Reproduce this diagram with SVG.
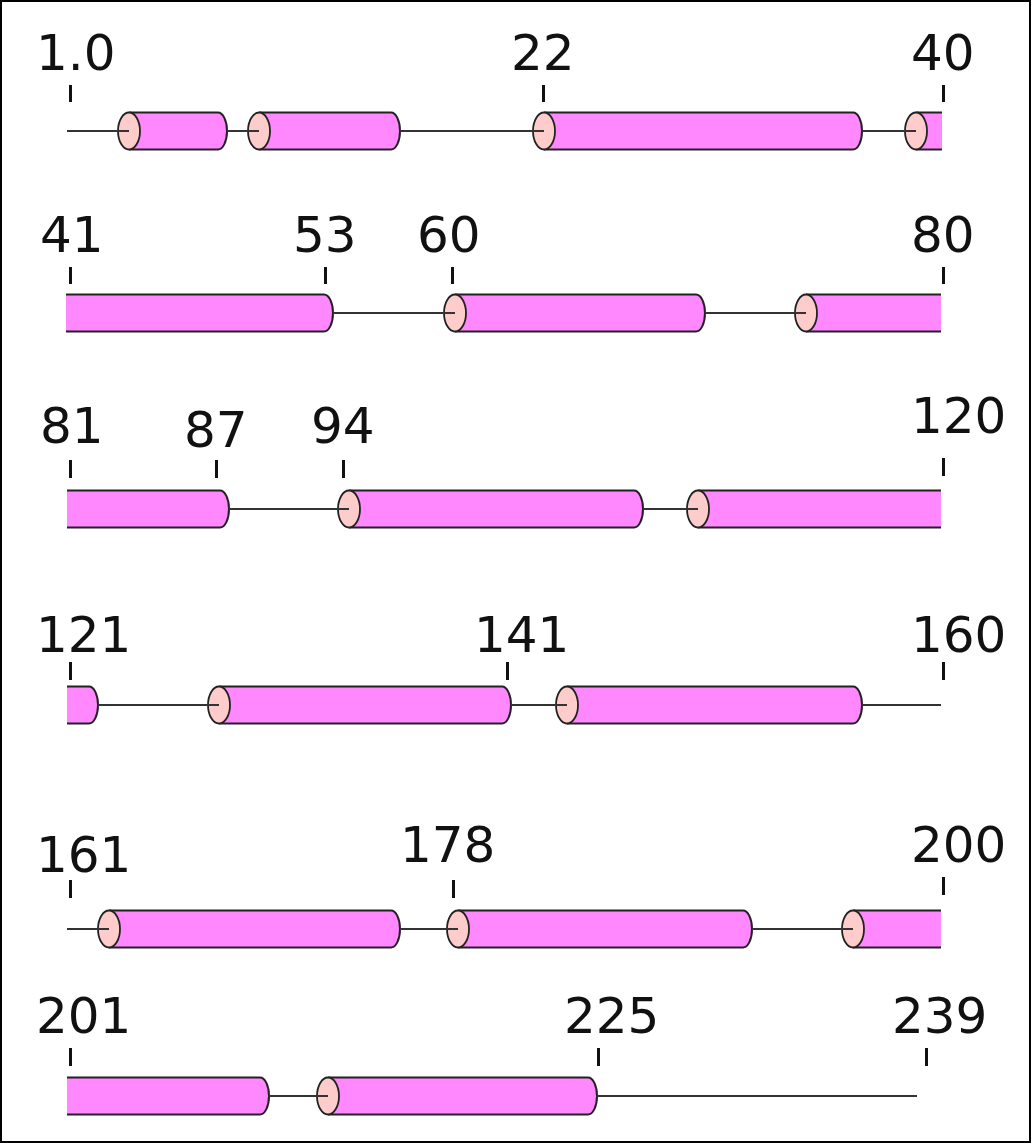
<svg xmlns="http://www.w3.org/2000/svg" width="1031" height="1143" viewBox="0 0 1031 1143">
  <style>
    .lbl { font-family: "DejaVu Sans", "Liberation Sans", sans-serif; font-size: 50px; fill: #111; }
    .tick { stroke: #111; stroke-width: 3; }
    .body { fill: #FF88FF; stroke: none; }
    .edge { fill: none; stroke: #222; stroke-width: 2; }
    .face { fill: #FFCCCC; stroke: #222; stroke-width: 1.8; }
    .coil { stroke: #333; stroke-width: 2; fill: none; }
  </style>

  <!-- frame -->
  <rect x="1" y="1" width="1029" height="1141" fill="#fff" stroke="#000" stroke-width="2"/>

  <!-- ===== Row 1 : residues 1-40 ===== -->
  <g id="row1-scale">
    <text class="lbl" x="36" y="70">1.0</text>
    <line class="tick" x1="70.5" y1="85" x2="70.5" y2="102"/>
    <text class="lbl" x="511" y="70">22</text>
    <line class="tick" x1="543.5" y1="85" x2="543.5" y2="102"/>
    <text class="lbl" x="911" y="70">40</text>
    <line class="tick" x1="943.5" y1="85" x2="943.5" y2="102"/>
  </g>
  <g id="helix-r1-a">
    <path class="body" d="M129,112.5 H218 A9,18.5 0 0 1 218,149.5 H129 Z"/>
    <path class="edge" d="M129,112.5 H218 A9,18.5 0 0 1 218,149.5 H129"/>
    <ellipse class="face" cx="129" cy="131" rx="11" ry="18.5"/>
  </g>
  <g id="helix-r1-b">
    <path class="body" d="M259,112.5 H391 A9,18.5 0 0 1 391,149.5 H259 Z"/>
    <path class="edge" d="M259,112.5 H391 A9,18.5 0 0 1 391,149.5 H259"/>
    <ellipse class="face" cx="259" cy="131" rx="11" ry="18.5"/>
  </g>
  <g id="helix-r1-c">
    <path class="body" d="M544,112.5 H853 A9,18.5 0 0 1 853,149.5 H544 Z"/>
    <path class="edge" d="M544,112.5 H853 A9,18.5 0 0 1 853,149.5 H544"/>
    <ellipse class="face" cx="544" cy="131" rx="11" ry="18.5"/>
  </g>
  <g id="helix-r1-d">
    <rect class="body" x="916" y="112.5" width="26" height="37"/>
    <path class="edge" d="M916,112.5 H942 M916,149.5 H942"/>
    <ellipse class="face" cx="916" cy="131" rx="11" ry="18.5"/>
  </g>

  <!-- ===== Row 2 : residues 41-80 ===== -->
  <g id="row2-scale">
    <text class="lbl" x="40" y="252">41</text>
    <line class="tick" x1="70.5" y1="267" x2="70.5" y2="284"/>
    <text class="lbl" x="293" y="252">53</text>
    <line class="tick" x1="325.5" y1="267" x2="325.5" y2="284"/>
    <text class="lbl" x="417" y="252">60</text>
    <line class="tick" x1="452.5" y1="267" x2="452.5" y2="284"/>
    <text class="lbl" x="911" y="252">80</text>
    <line class="tick" x1="943.5" y1="267" x2="943.5" y2="284"/>
  </g>
  <g id="helix-r2-a">
    <path class="body" d="M66,294.5 H324 A9,18.5 0 0 1 324,331.5 H66 Z"/>
    <path class="edge" d="M66,294.5 H324 A9,18.5 0 0 1 324,331.5 H66"/>
  </g>
  <g id="helix-r2-b">
    <path class="body" d="M455,294.5 H696 A9,18.5 0 0 1 696,331.5 H455 Z"/>
    <path class="edge" d="M455,294.5 H696 A9,18.5 0 0 1 696,331.5 H455"/>
    <ellipse class="face" cx="455" cy="313" rx="11" ry="18.5"/>
  </g>
  <g id="helix-r2-c">
    <rect class="body" x="806" y="294.5" width="135" height="37"/>
    <path class="edge" d="M806,294.5 H941 M806,331.5 H941"/>
    <ellipse class="face" cx="806" cy="313" rx="11" ry="18.5"/>
  </g>

  <!-- ===== Row 3 : residues 81-120 ===== -->
  <g id="row3-scale">
    <text class="lbl" x="40" y="443">81</text>
    <line class="tick" x1="70.5" y1="460" x2="70.5" y2="478"/>
    <text class="lbl" x="184" y="447">87</text>
    <line class="tick" x1="216.5" y1="460" x2="216.5" y2="478"/>
    <text class="lbl" x="311" y="443">94</text>
    <line class="tick" x1="343.5" y1="460" x2="343.5" y2="478"/>
    <text class="lbl" x="911" y="433">120</text>
    <line class="tick" x1="943.5" y1="458" x2="943.5" y2="476"/>
  </g>
  <g id="helix-r3-a">
    <path class="body" d="M67,490.5 H220 A9,18.5 0 0 1 220,527.5 H67 Z"/>
    <path class="edge" d="M67,490.5 H220 A9,18.5 0 0 1 220,527.5 H67"/>
  </g>
  <g id="helix-r3-b">
    <path class="body" d="M349,490.5 H634 A9,18.5 0 0 1 634,527.5 H349 Z"/>
    <path class="edge" d="M349,490.5 H634 A9,18.5 0 0 1 634,527.5 H349"/>
    <ellipse class="face" cx="349" cy="509" rx="11" ry="18.5"/>
  </g>
  <g id="helix-r3-c">
    <rect class="body" x="698" y="490.5" width="243" height="37"/>
    <path class="edge" d="M698,490.5 H941 M698,527.5 H941"/>
    <ellipse class="face" cx="698" cy="509" rx="11" ry="18.5"/>
  </g>

  <!-- ===== Row 4 : residues 121-160 ===== -->
  <g id="row4-scale">
    <text class="lbl" x="36" y="652">121</text>
    <line class="tick" x1="70.5" y1="662" x2="70.5" y2="680"/>
    <text class="lbl" x="474" y="652">141</text>
    <line class="tick" x1="507.5" y1="662" x2="507.5" y2="680"/>
    <text class="lbl" x="911" y="652">160</text>
    <line class="tick" x1="943.5" y1="662" x2="943.5" y2="680"/>
  </g>
  <g id="helix-r4-a">
    <path class="body" d="M67,686.5 H89 A9,18.5 0 0 1 89,723.5 H67 Z"/>
    <path class="edge" d="M67,686.5 H89 A9,18.5 0 0 1 89,723.5 H67"/>
  </g>
  <g id="helix-r4-b">
    <path class="body" d="M219,686.5 H502 A9,18.5 0 0 1 502,723.5 H219 Z"/>
    <path class="edge" d="M219,686.5 H502 A9,18.5 0 0 1 502,723.5 H219"/>
    <ellipse class="face" cx="219" cy="705" rx="11" ry="18.5"/>
  </g>
  <g id="helix-r4-c">
    <path class="body" d="M567,686.5 H853 A9,18.5 0 0 1 853,723.5 H567 Z"/>
    <path class="edge" d="M567,686.5 H853 A9,18.5 0 0 1 853,723.5 H567"/>
    <ellipse class="face" cx="567" cy="705" rx="11" ry="18.5"/>
  </g>

  <!-- ===== Row 5 : residues 161-200 ===== -->
  <g id="row5-scale">
    <text class="lbl" x="36" y="872">161</text>
    <line class="tick" x1="70.5" y1="880" x2="70.5" y2="898"/>
    <text class="lbl" x="400" y="862">178</text>
    <line class="tick" x1="453.5" y1="880" x2="453.5" y2="898"/>
    <text class="lbl" x="911" y="862">200</text>
    <line class="tick" x1="943.5" y1="877" x2="943.5" y2="895"/>
  </g>
  <g id="helix-r5-a">
    <path class="body" d="M109,910.5 H391 A9,18.5 0 0 1 391,947.5 H109 Z"/>
    <path class="edge" d="M109,910.5 H391 A9,18.5 0 0 1 391,947.5 H109"/>
    <ellipse class="face" cx="109" cy="929" rx="11" ry="18.5"/>
  </g>
  <g id="helix-r5-b">
    <path class="body" d="M458,910.5 H743 A9,18.5 0 0 1 743,947.5 H458 Z"/>
    <path class="edge" d="M458,910.5 H743 A9,18.5 0 0 1 743,947.5 H458"/>
    <ellipse class="face" cx="458" cy="929" rx="11" ry="18.5"/>
  </g>
  <g id="helix-r5-c">
    <rect class="body" x="853" y="910.5" width="88" height="37"/>
    <path class="edge" d="M853,910.5 H941 M853,947.5 H941"/>
    <ellipse class="face" cx="853" cy="929" rx="11" ry="18.5"/>
  </g>

  <!-- ===== Row 6 : residues 201-239 ===== -->
  <g id="row6-scale">
    <text class="lbl" x="36" y="1033">201</text>
    <line class="tick" x1="70.5" y1="1048" x2="70.5" y2="1066"/>
    <text class="lbl" x="564" y="1033">225</text>
    <line class="tick" x1="598.5" y1="1048" x2="598.5" y2="1066"/>
    <text class="lbl" x="892" y="1033">239</text>
    <line class="tick" x1="926.5" y1="1048" x2="926.5" y2="1066"/>
  </g>
  <g id="helix-r6-a">
    <path class="body" d="M67,1077.5 H260 A9,18.5 0 0 1 260,1114.5 H67 Z"/>
    <path class="edge" d="M67,1077.5 H260 A9,18.5 0 0 1 260,1114.5 H67"/>
  </g>
  <g id="helix-r6-b">
    <path class="body" d="M328,1077.5 H588 A9,18.5 0 0 1 588,1114.5 H328 Z"/>
    <path class="edge" d="M328,1077.5 H588 A9,18.5 0 0 1 588,1114.5 H328"/>
    <ellipse class="face" cx="328" cy="1096" rx="11" ry="18.5"/>
  </g>

  <!-- coil segments joining the helices -->
  <g id="connectors">
    <path class="coil" d="M67,131 H129 M227,131 H259 M400,131 H544 M862,131 H916"/>
    <path class="coil" d="M333,313 H455 M705,313 H806"/>
    <path class="coil" d="M229,509 H349 M643,509 H698"/>
    <path class="coil" d="M98,705 H219 M511,705 H567 M862,705 H941"/>
    <path class="coil" d="M67,929 H109 M400,929 H458 M752,929 H853"/>
    <path class="coil" d="M269,1096 H328 M597,1096 H917"/>
  </g>
</svg>
